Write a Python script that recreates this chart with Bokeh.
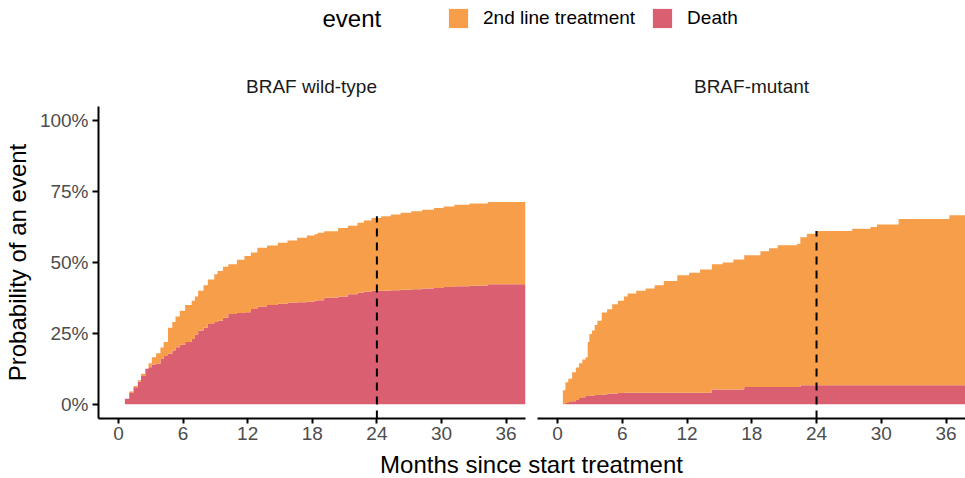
import numpy as np
from bokeh.plotting import figure
from bokeh.layouts import column, row
from bokeh.models import (Range1d, FixedTicker, NumeralTickFormatter, Legend,
                          LegendItem, ColumnDataSource)
from bokeh.core.properties import value
from bokeh.embed import file_html
from bokeh.resources import INLINE

# ---------------- data ----------------
panel_titles = ["BRAF wild-type", "BRAF-mutant"]
event_labels = ["2nd line treatment", "Death"]
x_ticks = [0, 6, 12, 18, 24, 30, 36]
y_ticks = [0, 0.25, 0.5, 0.75, 1.0]
landmark_month = 24

# BRAF wild-type: months, cumulative incidence of death and of 2nd line treatment
wt_time = [0.2, 0.6, 1.0, 1.4, 1.8, 2.1, 2.5, 2.8, 3.1, 3.5, 3.9, 4.2, 4.6, 5.0, 5.3, 5.7,
           6.2, 6.8, 7.1, 7.4, 7.9, 8.3, 8.9, 9.2, 9.7, 10.2, 11.0, 11.7, 12.3, 12.9, 13.8,
           14.8, 15.7, 16.6, 17.5, 18.2, 18.5, 19.1, 20.4, 21.3, 22.2, 22.8, 23.5, 24.4,
           25.3, 26.2, 27.2, 28.2, 29.3, 30.2, 31.2, 32.6, 34.3, 37.8]
wt_death = [0, 0.02, 0.04, 0.06, 0.08, 0.10, 0.125, 0.131, 0.14, 0.143, 0.16, 0.17, 0.178,
            0.19, 0.201, 0.21, 0.22, 0.23, 0.245, 0.26, 0.27, 0.283, 0.29, 0.295, 0.305,
            0.318, 0.322, 0.325, 0.336, 0.345, 0.35, 0.355, 0.358, 0.36, 0.362, 0.365,
            0.367, 0.376, 0.38, 0.388, 0.393, 0.397, 0.40, 0.40, 0.402, 0.404, 0.406,
            0.408, 0.41, 0.414, 0.416, 0.418, 0.423, 0.423]
wt_second = [0, 0, 0.005, 0.005, 0.005, 0.008, 0, 0.014, 0.026, 0.037, 0.04, 0.05, 0.092,
             0.10, 0.109, 0.12, 0.13, 0.135, 0.135, 0.14, 0.15, 0.157, 0.169, 0.175, 0.18,
             0.176, 0.188, 0.198, 0.199, 0.207, 0.21, 0.215, 0.22, 0.227, 0.233, 0.235,
             0.238, 0.234, 0.242, 0.242, 0.247, 0.251, 0.257, 0.263, 0.267, 0.271, 0.275,
             0.278, 0.282, 0.283, 0.288, 0.29, 0.29, 0.29]

# BRAF-mutant
mt_time = [0.3, 0.5, 0.74, 1.0, 1.36, 1.7, 2.0, 2.3, 2.6, 2.8, 2.95, 3.2, 3.45, 3.7, 4.1,
           4.6, 5.07, 5.6, 6.15, 6.5, 7.3, 8.16, 9.0, 9.85, 11.1, 12.2, 13.2, 14.3, 15.3,
           16.3, 17.3, 18.8, 19.6, 20.4, 22.2, 22.5, 23.1, 23.9, 27.3, 29.0, 29.6, 31.6,
           36.3, 37.8]
mt_death = [0, 0, 0.005, 0.008, 0.011, 0.015, 0.022, 0.025, 0.029, 0.029, 0.03, 0.031,
            0.033, 0.033, 0.035, 0.037, 0.038, 0.04, 0.041, 0.041, 0.041, 0.041, 0.041,
            0.041, 0.041, 0.041, 0.041, 0.052, 0.052, 0.052, 0.061, 0.061, 0.061, 0.061,
            0.061, 0.067, 0.067, 0.067, 0.067, 0.067, 0.067, 0.067, 0.067, 0.067]
mt_second = [0, 0.05, 0.073, 0.082, 0.102, 0.115, 0.123, 0.133, 0.137, 0.191, 0.218,
             0.229, 0.247, 0.262, 0.289, 0.298, 0.315, 0.325, 0.339, 0.35, 0.359, 0.367,
             0.379, 0.394, 0.414, 0.423, 0.434, 0.442, 0.448, 0.459, 0.465, 0.479, 0.489,
             0.50, 0.505, 0.522, 0.534, 0.544, 0.552, 0.558, 0.567, 0.586, 0.60, 0.60]

# total probability of an event at the 24-month landmark
landmark_value = [0.663, 0.611]

# ---------------- style ----------------
FONT = "Liberation Sans"
ORANGE = "#F79E4A"
RED = "#DA5F71"
TICK_COL = "#4D4D4D"
STRIP_COL = "#1A1A1A"

TOTAL_W = 965
TOP_H = 106
PANEL_H = 346
BOTTOM_H = 26
LEFT_W = 531
RIGHT_W = TOTAL_W - LEFT_W


def blank(width, height, xr, yr):
    p = figure(width=width, height=height, x_range=Range1d(*xr), y_range=Range1d(*yr),
               output_backend="svg", toolbar_location=None,
               min_border=0, x_axis_type=None, y_axis_type=None)
    p.outline_line_color = None
    p.grid.visible = False
    p.background_fill_color = "white"
    p.border_fill_color = "white"
    return p


def panel(time, death, second, landmark, width, border_left, border_right, show_y):
    p = figure(width=width, height=PANEL_H, x_range=Range1d(-1.85, 37.8),
               y_range=Range1d(-0.05, 1.05), output_backend="svg", toolbar_location=None,
               min_border_left=border_left, min_border_right=border_right,
               min_border_top=0, min_border_bottom=34)
    p.outline_line_color = None
    p.grid.visible = False
    p.background_fill_color = "white"
    p.border_fill_color = "white"

    t = np.array(time)
    d = np.array(death)
    s = np.array(second)
    src = ColumnDataSource(dict(t=t, zero=np.zeros_like(t), d=d, total=d + s))
    p.varea_step(x="t", y1="zero", y2="d", source=src, step_mode="after",
                 fill_color=RED)
    p.varea_step(x="t", y1="d", y2="total", source=src, step_mode="after",
                 fill_color=ORANGE)
    p.segment(x0=[landmark_month], y0=[-0.05], x1=[landmark_month], y1=[landmark],
              line_color="black", line_width=2, line_dash="8 6")

    for ax in p.xaxis:
        ax.ticker = FixedTicker(ticks=x_ticks)
        ax.minor_tick_line_color = None
        ax.major_tick_in = 0
        ax.major_tick_out = 5
        ax.major_label_standoff = 3
        ax.axis_line_width = 2
        ax.major_tick_line_width = 2
        ax.major_label_text_font = FONT
        ax.major_label_text_font_size = "19px"
        ax.major_label_text_color = TICK_COL
    for ax in p.yaxis:
        if show_y:
            ax.ticker = FixedTicker(ticks=y_ticks)
            ax.formatter = NumeralTickFormatter(format="0%")
            ax.minor_tick_line_color = None
            ax.major_tick_in = 0
            ax.major_tick_out = 6
            ax.major_label_standoff = 4
            ax.axis_line_width = 2
            ax.major_tick_line_width = 2
            ax.major_label_text_font = FONT
            ax.major_label_text_font_size = "19px"
            ax.major_label_text_color = TICK_COL
            ax.axis_label = "Probability of an event"
            ax.axis_label_standoff = 6
            ax.axis_label_text_font = FONT
            ax.axis_label_text_font_size = "24px"
            ax.axis_label_text_font_style = "normal"
            ax.axis_label_text_color = "black"
        else:
            ax.visible = False
    return p


# top area: legend + strip labels (page pixel coordinates)
top = blank(TOTAL_W, TOP_H, (0, TOTAL_W), (TOP_H, 0))
top.text(x=[322], y=[18], text=["event"], text_font=value(FONT),
         text_font_size="24px", text_align="left", text_baseline="middle",
         text_color="black")
# legend proxies (placed outside the visible range of this header figure)
r_o = top.varea(x=[-50, -40], y1=[0, 0], y2=[1, 1], fill_color=ORANGE)
r_r = top.varea(x=[-50, -40], y1=[0, 0], y2=[1, 1], fill_color=RED)
legend = Legend(items=[LegendItem(label=event_labels[0], renderers=[r_o]),
                       LegendItem(label=event_labels[1], renderers=[r_r])],
                orientation="horizontal", location=(446, 76),
                glyph_width=24, glyph_height=24, label_height=24,
                label_standoff=13, spacing=15, padding=0, margin=0,
                border_line_alpha=0, background_fill_alpha=0,
                label_text_font=FONT, label_text_font_size="19px",
                label_text_color="black")
top.add_layout(legend, "center")
top.text(x=[311, 751], y=[86, 86], text=panel_titles, text_font=value(FONT),
         text_font_size="19px", text_align="center", text_baseline="middle",
         text_color=STRIP_COL)

left = panel(wt_time, wt_death, wt_second, landmark_value[0], LEFT_W, 97, 6, True)
right = panel(mt_time, mt_death, mt_second, landmark_value[1], RIGHT_W, 6, 0, False)

bottom = blank(TOTAL_W, BOTTOM_H, (0, TOTAL_W), (BOTTOM_H, 0))
bottom.text(x=[531], y=[12], text=["Months since start treatment"], text_font=value(FONT),
            text_font_size="24px", text_align="center", text_baseline="middle",
            text_color="black")

layout = column(top, row(left, right), bottom)
open("out.html", "w").write(file_html(layout, INLINE))
